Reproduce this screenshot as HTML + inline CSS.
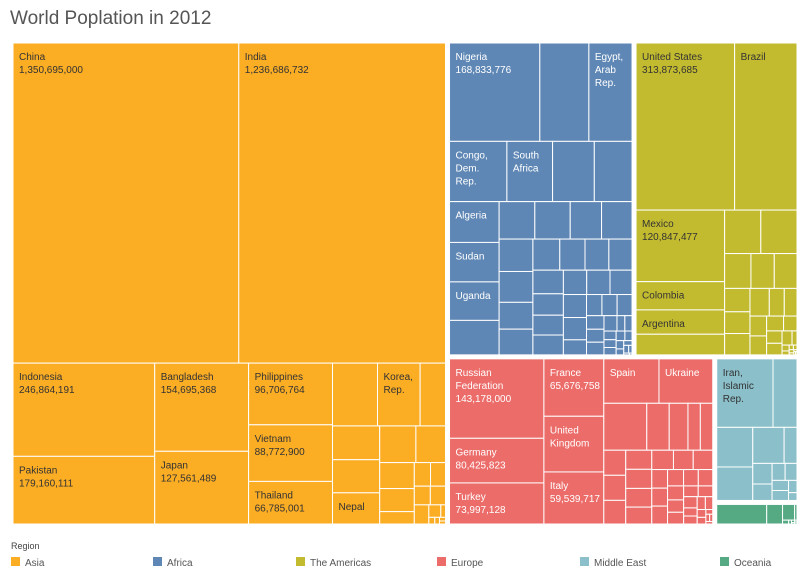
<!DOCTYPE html>
<html><head><meta charset="utf-8"><style>
body{margin:0;background:#fff;font-family:"Liberation Sans",sans-serif;}
svg{display:block}
</style></head><body>
<svg id="chart" width="803" height="575">
<text x="10" y="24" font-size="19" fill="#555">World Poplation in 2012</text>
<g id="cells"></g>
<g id="legend"></g>
</svg>
<script>
const regions = ["Asia","Africa","The Americas","Europe","Middle East","Oceania"];
const regionColors = ["#FBAD24","#5F87B5","#C3BB2F","#EB6C69","#8BBFC9","#55AA83"];
const regionText = ["#333","#fff","#333","#fff","#333","#fff"];

const asiaNames = ["China","India","Indonesia","Pakistan","Bangladesh","Japan","Philippines","Vietnam","Thailand","Myanmar","Korea, Rep.","Afghanistan","Uzbekistan","Malaysia","Nepal","Korea, Dem. Rep.","Sri Lanka","Kazakhstan","Cambodia","Tajikistan","Hong Kong","Lao PDR","Kyrgyz Republic","Singapore","Turkmenistan","Mongolia","Timor-Leste","Bhutan","Macao","Brunei","Maldives"];
const asiaValues = [1350695000,1236686732,246864191,179160111,154695368,127561489,96706764,88772900,66785001,52800000,50000000,29800000,29790000,29200000,27500000,24800000,20300000,16800000,14900000,8000000,7150000,6600000,5600000,5300000,5200000,2800000,1100000,740000,580000,410000,340000];

const africaNames = ["Nigeria","Ethiopia","Egypt, Arab Rep.","Congo, Dem. Rep.","South Africa","Tanzania","Kenya","Algeria","Sudan","Uganda","Morocco","Ghana","Mozambique","Madagascar","Cameroon","Angola","Cote d'Ivoire","Niger","Burkina Faso","Malawi","Mali","Zambia","Senegal","Zimbabwe","Chad","Guinea","Rwanda","Tunisia","South Sudan","Somalia","Benin","Burundi","Togo","Libya","Eritrea","Sierra Leone","Central African Rep.","Congo, Rep.","Liberia","Mauritania","Namibia","Lesotho","Botswana","Gambia","Guinea-Bissau","Gabon","Mauritius","Swaziland","Djibouti","Equatorial Guinea","Comoros","Cabo Verde","Sao Tome","Seychelles"];
const africaValues = [168833776,91700000,80700000,65700000,52300000,47800000,43200000,38500000,37200000,36300000,32500000,25400000,25200000,22300000,21700000,20800000,19800000,17200000,16500000,15900000,14900000,14100000,13700000,13700000,12400000,11500000,11490000,10800000,10790000,10200000,10100000,9800000,6600000,6200000,6100000,6000000,4500000,4300000,4200000,3800000,2300000,2100000,2000000,1800000,1700000,1600000,1300000,1200000,860000,740000,720000,490000,190000,90000];

const americasNames = ["United States","Brazil","Mexico","Colombia","Argentina","Canada","Peru","Venezuela","Chile","Ecuador","Guatemala","Cuba","Bolivia","Dominican Republic","Haiti","Honduras","Paraguay","El Salvador","Nicaragua","Costa Rica","Panama","Puerto Rico","Uruguay","Jamaica","Trinidad and Tobago","Guyana","Suriname","Bahamas","Belize","Barbados","St. Lucia","Grenada","St. Vincent","Antigua"];
const americasValues = [313873685,198700000,120847477,47700000,41100000,34800000,30000000,29990000,17500000,15500000,15100000,11300000,10500000,10300000,10200000,7900000,6700000,6300000,6000000,4800000,3800000,3650000,3400000,2700000,1340000,800000,530000,370000,320000,280000,180000,105000,109000,89000];

const europeNames = ["Russian Federation","Germany","Turkey","France","United Kingdom","Italy","Spain","Ukraine","Poland","Romania","Netherlands","Belgium","Greece","Czech Republic","Portugal","Hungary","Sweden","Belarus","Azerbaijan","Austria","Switzerland","Bulgaria","Serbia","Denmark","Slovak Republic","Finland","Norway","Ireland","Georgia","Croatia","Bosnia and Herzegovina","Moldova","Armenia","Lithuania","Albania","Macedonia","Slovenia","Latvia","Kosovo","Estonia","Cyprus","Montenegro","Luxembourg","Malta","Iceland"];
const europeValues = [143178000,80425823,73997128,65676758,63700000,59539717,46800000,45600000,38500000,20100000,16800000,11100000,11090000,10500000,10490000,9900000,9500000,9490000,9300000,8400000,8000000,7300000,7200000,5600000,5400000,5390000,5000000,4600000,4500000,4300000,3800000,3600000,3000000,2990000,2900000,2100000,2060000,2000000,1800000,1300000,1100000,620000,530000,420000,320000];

const middleEastNames = ["Iran, Islamic Rep.","Iraq","Saudi Arabia","Yemen, Rep.","Syrian Arab Republic","United Arab Emirates","Israel","Jordan","Lebanon","West Bank and Gaza","Oman","Kuwait","Qatar","Bahrain"];
const middleEastValues = [76400000,32600000,28300000,23900000,22400000,9200000,7900000,6300000,4400000,4000000,3300000,3250000,2050000,1300000];

const oceaniaNames = ["Australia","Papua New Guinea","New Zealand","Fiji","Solomon Islands","Vanuatu","Samoa","Kiribati","Tonga","Micronesia"];
const oceaniaValues = [22700000,7200000,4400000,870000,550000,250000,190000,100000,100000,100000];

const allNames = [asiaNames,africaNames,americasNames,europeNames,middleEastNames,oceaniaNames];
const allValues = [asiaValues,africaValues,americasValues,europeValues,middleEastValues,oceaniaValues];

const labelLines = {
 "China":["China"],"India":["India"],"Indonesia":["Indonesia"],"Pakistan":["Pakistan"],"Bangladesh":["Bangladesh"],"Japan":["Japan"],"Philippines":["Philippines"],"Vietnam":["Vietnam"],"Thailand":["Thailand"],"Nepal":["Nepal"],"Korea, Rep.":["Korea,","Rep."],
 "Nigeria":["Nigeria"],"Egypt, Arab Rep.":["Egypt,","Arab","Rep."],"Congo, Dem. Rep.":["Congo,","Dem.","Rep."],"South Africa":["South","Africa"],"Algeria":["Algeria"],"Sudan":["Sudan"],"Uganda":["Uganda"],
 "United States":["United States"],"Brazil":["Brazil"],"Mexico":["Mexico"],"Colombia":["Colombia"],"Argentina":["Argentina"],
 "Russian Federation":["Russian","Federation"],"Germany":["Germany"],"Turkey":["Turkey"],"France":["France"],"United Kingdom":["United","Kingdom"],"Italy":["Italy"],"Spain":["Spain"],"Ukraine":["Ukraine"],
 "Iran, Islamic Rep.":["Iran,","Islamic","Rep."]
};
const showValue = ["China","India","Indonesia","Pakistan","Bangladesh","Japan","Philippines","Vietnam","Thailand","Nigeria","United States","Mexico","Russian Federation","Germany","Turkey","France","Italy"];

function firstRatio(row, side){
  const s=row.reduce((a,b)=>a+b,0);
  const thick=s/side, len=row[0]/thick;
  return Math.max(thick/len,len/thick);
}
function squarify(vals, x, y, w, h){
  const total=vals.reduce((a,b)=>a+b,0);
  const areas=vals.map(v=>v/total*w*h);
  const out=[]; let i=0;
  while(i<areas.length){
    const side=Math.min(w,h); let row=[areas[i]]; let j=i+1;
    while(j<areas.length){
      const nr=row.concat([areas[j]]);
      if(firstRatio(nr,side)<=firstRatio(row,side)*1.19){row=nr;j++;} else break;
    }
    const s=row.reduce((a,b)=>a+b,0);
    if(w>=h){ const cw=s/h; let yy=y; for(const a of row){const ch=a/cw; out.push([x,yy,cw,ch]); yy+=ch;} x+=cw; w-=cw; }
    else { const rh=s/w; let xx=x; for(const a of row){const cw=a/rh; out.push([xx,y,cw,rh]); xx+=cw;} y+=rh; h-=rh; }
    i=j;
  }
  return out;
}
const NS="http://www.w3.org/2000/svg";
const cellsG=document.getElementById('cells');
const regionTotals=allValues.map(a=>a.reduce((s,v)=>s+v,0));
const regionRects=squarify(regionTotals,11,41,788,485);
regionRects.forEach((rr,ri)=>{
  const [rx,ry,rw,rh]=[rr[0]+2,rr[1]+2,rr[2]-4,rr[3]-4];
  const g=document.createElementNS(NS,'g');
  
  
  cellsG.appendChild(g);
  const idx=allValues[ri].map((v,k)=>k).sort((a,b)=>allValues[ri][b]-allValues[ri][a]);
  const vals=idx.map(k=>allValues[ri][k]);
  const rects=squarify(vals,rx,ry,rw,rh);
  rects.forEach((c,n)=>{
    const name=allNames[ri][idx[n]];
    const r=document.createElementNS(NS,'rect');
    r.setAttribute('x',c[0]);r.setAttribute('y',c[1]);r.setAttribute('width',Math.max(0,c[2]));r.setAttribute('height',Math.max(0,c[3]));
    r.setAttribute('fill',regionColors[ri]);r.setAttribute('stroke','#fff');r.setAttribute('stroke-width','1');
    
    
    g.appendChild(r);
    if(labelLines[name]){
      const lines=labelLines[name].slice();
      if(showValue.includes(name)) lines.push(vals[n].toLocaleString('en-US'));
      const t=document.createElementNS(NS,'text');
      t.setAttribute('x',c[0]+6);t.setAttribute('y',c[1]+17);
      t.setAttribute('font-size','10');t.setAttribute('fill',regionText[ri]);
      
      
      lines.forEach((l,li)=>{const ts=document.createElementNS(NS,'tspan');ts.setAttribute('x',c[0]+6);if(li>0)ts.setAttribute('dy','13');ts.textContent=l;t.appendChild(ts);});
      g.appendChild(t);
    }
  });
});
const lg=document.getElementById('legend');
const lt=document.createElementNS(NS,'text');
lt.setAttribute('x',11);lt.setAttribute('y',549);lt.setAttribute('font-size','9');lt.setAttribute('fill','#444');lt.textContent='Region';


lg.appendChild(lt);
const legendX=[11,153,296,437,580,720];
regions.forEach((r,i)=>{
  const g=document.createElementNS(NS,'g');
  
  
  const s=document.createElementNS(NS,'rect');
  s.setAttribute('x',legendX[i]);s.setAttribute('y',557);s.setAttribute('width',9);s.setAttribute('height',9);s.setAttribute('fill',regionColors[i]);
  const t=document.createElementNS(NS,'text');
  t.setAttribute('x',legendX[i]+14);t.setAttribute('y',566);t.setAttribute('font-size','10');t.setAttribute('fill','#555');t.textContent=r;
  g.appendChild(s);g.appendChild(t);lg.appendChild(g);
});
</script>
</body></html>
